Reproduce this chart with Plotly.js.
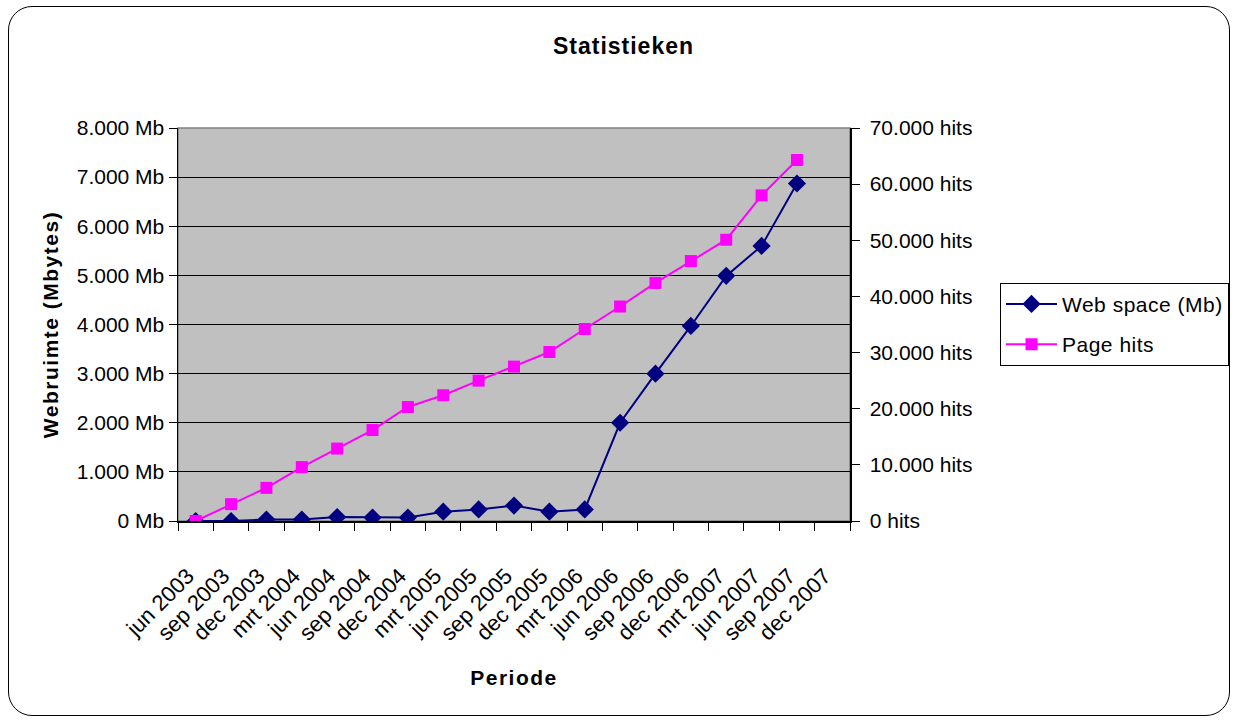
<!DOCTYPE html>
<html>
<head>
<meta charset="utf-8">
<script src="https://cdn.plot.ly/plotly-3.0.1.min.js"></script>
<style>
  html, body { margin:0; padding:0; background:#fff; }
  #chart { position:absolute; left:0; top:0; width:1237px; height:722px; }
  #frame { position:absolute; left:8px; top:6px; width:1220px; height:708px;
           border:1.5px solid #000; border-radius:24px; pointer-events:none; }
  .gtitle { letter-spacing:1px; }
  .g-ytitle text, .g-xtitle text { letter-spacing:1.5px; }
  .legendtext { letter-spacing:0.5px; }
</style>
</head>
<body>
<div id="chart"></div>
<div id="frame"></div>
<script>
const categories = ["jun 2003","sep 2003","dec 2003","mrt 2004","jun 2004","sep 2004","dec 2004",
  "mrt 2005","jun 2005","sep 2005","dec 2005","mrt 2006","jun 2006","sep 2006","dec 2006",
  "mrt 2007","jun 2007","sep 2007","dec 2007"];
const webSpaceMb = [0, 0, 30, 30, 80, 70, 70, 190, 235, 315, 190, 235, 2000, 3000, 3970, 4990, 5600, 6870, null];
const pageHits = [0, 3000, 5900, 9600, 12900, 16200, 20300, 22400, 25000, 27500, 30100, 34200, 38200, 42400, 46300, 50100, 58000, 64300, null];

const FONT = "Liberation Sans, Arial, sans-serif";

const traces = [
  {
    x: categories, y: webSpaceMb, name: "Web space (Mb)", type: "scatter", mode: "lines+markers",
    yaxis: "y", legendgroup: "a",
    line: {color: "#000080", width: 2},
    marker: {symbol: "diamond", size: 14, color: "#000080"}
  },
  {
    x: categories, y: pageHits, name: "Page hits", type: "scatter", mode: "lines+markers",
    yaxis: "y2", legendgroup: "b",
    line: {color: "#FF00FF", width: 2},
    marker: {symbol: "square", size: 12, color: "#FF00FF"}
  }
];

const layout = {
  width: 1237, height: 722,
  paper_bgcolor: "rgba(0,0,0,0)",
  plot_bgcolor: "#C0C0C0",
  separators: ",.",
  margin: {l: 178, r: 387, t: 128, b: 200.5, autoexpand: false},
  font: {family: FONT, size: 21, color: "#000"},
  showlegend: true,
  title: {
    text: "<b>Statistieken</b>",
    font: {family: FONT, size: 23, color: "#000"},
    x: 623.5/1237, xanchor: "center", y: 1 - 46/722, yanchor: "middle"
  },
  xaxis: {
    type: "category",
    range: [-0.5, 18.5],
    tickangle: -45,
    tickson: "boundaries",
    ticks: "outside", ticklen: 8, tickcolor: "#000", tickwidth: 1,
    showline: true, linecolor: "#000", linewidth: 1.5,
    showgrid: false, zeroline: false,
    automargin: false,
    ticklabelstandoff: 32,
    ticklabelshift: -8,
    tickfont: {family: FONT, size: 22},
    title: {text: "<b>Periode</b>", font: {family: FONT, size: 21}, standoff: 26}
  },
  yaxis: {
    range: [0, 8000], dtick: 1000, tick0: 0,
    tickformat: ",d", ticksuffix: " Mb",
    ticks: "outside", ticklen: 8, tickcolor: "#000",
    showline: true, linecolor: "#000", linewidth: 1.5,
    showgrid: true, gridcolor: "#000", gridwidth: 1,
    zeroline: false, automargin: false,
    tickfont: {family: FONT, size: 21},
    title: {text: "<b>Webruimte (Mbytes)</b>", font: {family: FONT, size: 21}, standoff: 12}
  },
  yaxis2: {
    overlaying: "y", side: "right",
    range: [0, 70000], dtick: 10000, tick0: 0,
    tickformat: ",d", ticksuffix: " hits",
    ticks: "outside", ticklen: 8, tickcolor: "#000",
    showline: true, linecolor: "#000", linewidth: 1.5,
    showgrid: false, zeroline: false, automargin: false,
    ticklabelstandoff: 6,
    tickfont: {family: FONT, size: 21}
  },
  legend: {
    x: (1000-178)/672, xanchor: "left",
    y: (521.5-283)/393.5, yanchor: "top",
    bgcolor: "#fff", bordercolor: "#000", borderwidth: 1,
    font: {family: FONT, size: 21},
    traceorder: "grouped", tracegroupgap: 10,
    itemwidth: 51
  },
  shapes: [
    {type: "rect", xref: "paper", yref: "paper", x0: 0, x1: 1, y0: 0, y1: 1,
     line: {color: "#808080", width: 1.5}, layer: "below"}
  ]
};

Plotly.newPlot("chart", traces, layout, {staticPlot: true, displayModeBar: false});
</script>
</body>
</html>
